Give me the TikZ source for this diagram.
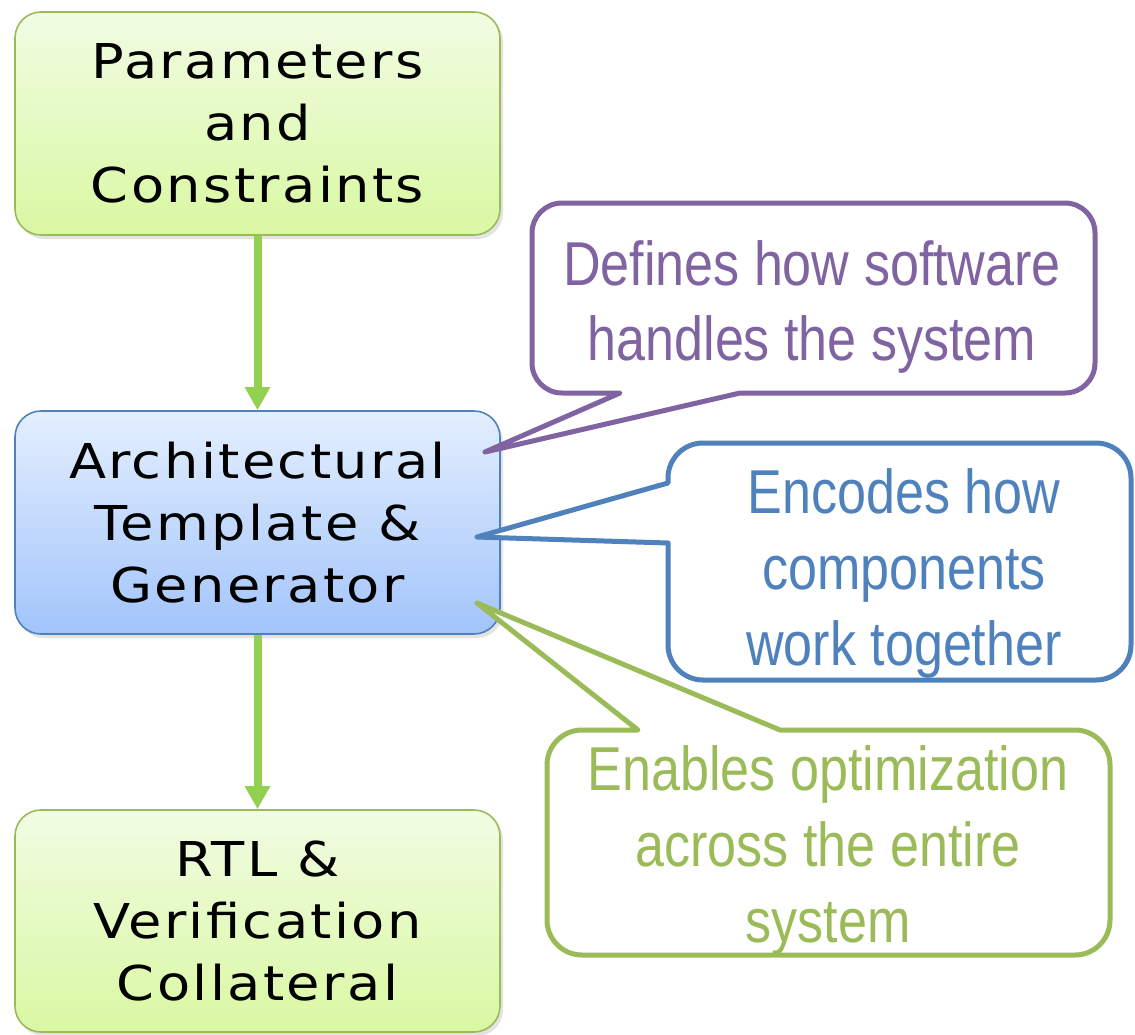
\documentclass[tikz,border=0pt]{standalone}
\usepackage{fontspec}
\usetikzlibrary{arrows.meta,shadows}
\newfontfamily\boxfont[LetterSpace=5,FakeStretch=1.13]{DejaVu Sans}
\newfontfamily\callfont[FakeStretch=0.84]{Liberation Sans}
\definecolor{bxgreen}{HTML}{9BBB59}
\definecolor{bxgreentop}{HTML}{F1FCE3}
\definecolor{bxgreenbot}{HTML}{D9F8A2}
\definecolor{bxblue}{HTML}{4F81BD}
\definecolor{bxbluetop}{HTML}{E4EFFE}
\definecolor{bxbluebot}{HTML}{A2C4FB}
\definecolor{flowgreen}{HTML}{92D050}
\definecolor{clpurple}{HTML}{8064A2}
\definecolor{clblue}{HTML}{4F81BD}
\definecolor{clgreen}{HTML}{9BBB59}
\begin{document}
\begin{tikzpicture}[x=1pt,y=-1pt,
  box/.style={rounded corners=26pt, minimum width=485pt, minimum height=223pt,
    inner sep=0pt, align=center, font=\boxfont\fontsize{48}{62}\selectfont,
    line width=1.6pt,
    drop shadow={opacity=0.22,shadow xshift=3pt,shadow yshift=-4pt}},
  greenbox/.style={box, draw=bxgreen, top color=bxgreentop, bottom color=bxgreenbot},
  bluebox/.style={box, draw=bxblue, top color=bxbluetop, bottom color=bxbluebot},
  flow/.style={draw=flowgreen, line width=8pt,
    -{Triangle[width=24pt,length=23pt]}},
  callout/.style={line width=5pt, line join=round, fill=white},
  ctext/.style={anchor=base, inner sep=0pt, font=\callfont\fontsize{62}{77}\selectfont}
]
\useasboundingbox (0,0) rectangle (1135,1034);
\fill[white] (0,0) rectangle (1135,1034);

% main boxes
\node[greenbox] (par) at (257.5,123.5) {Parameters\\and\\Constraints};
\node[bluebox] (arch) at (257.5,522.5) {Architectural\\Template \&\\Generator};
\node[greenbox, minimum height=222pt] (rtl) at (257.5,921) {RTL \&\\Verification\\Collateral};

% flow arrows
\draw[flow] (par.south) -- (arch.north);
\draw[flow] (arch.south) -- (rtl.north);

% purple callout
\draw[callout, draw=clpurple]
  (740,393) -- (1065,393) arc (90:0:30) -- (1095,233) arc (0:-90:30)
  -- (562,203) arc (-90:-180:30) -- (532,363) arc (180:90:30)
  -- (620,393) -- (485,452) -- cycle;
\node[ctext, text=clpurple] (d1) at (812,285) {Defines how software};
\node[ctext, text=clpurple] (d2) at (812,360) {handles the system};

% blue callout
\draw[callout, draw=clblue]
  (668,543) -- (668,645) arc (180:90:35) -- (1096,680) arc (90:0:35)
  -- (1131,478) arc (0:-90:35) -- (703,443) arc (-90:-180:35)
  -- (668,483) -- (477,537) -- cycle;
\node[ctext, text=clblue] (e1) at (904,513) {Encodes how};
\node[ctext, text=clblue] (e2) at (904,589) {components};
\node[ctext, text=clblue] (e3) at (904,665) {work together};

% green callout
\draw[callout, draw=clgreen]
  (780,730) -- (1075,730) arc (-90:0:35) -- (1110,920) arc (0:90:35)
  -- (582,955) arc (90:180:35) -- (547,765) arc (180:270:35)
  -- (638,730) -- (477,603) -- cycle;
\node[ctext, text=clgreen] (n1) at (828,790) {Enables optimization};
\node[ctext, text=clgreen] (n2) at (828,866) {across the entire};
\node[ctext, text=clgreen] (n3) at (828,942) {system};
\end{tikzpicture}
\end{document}
